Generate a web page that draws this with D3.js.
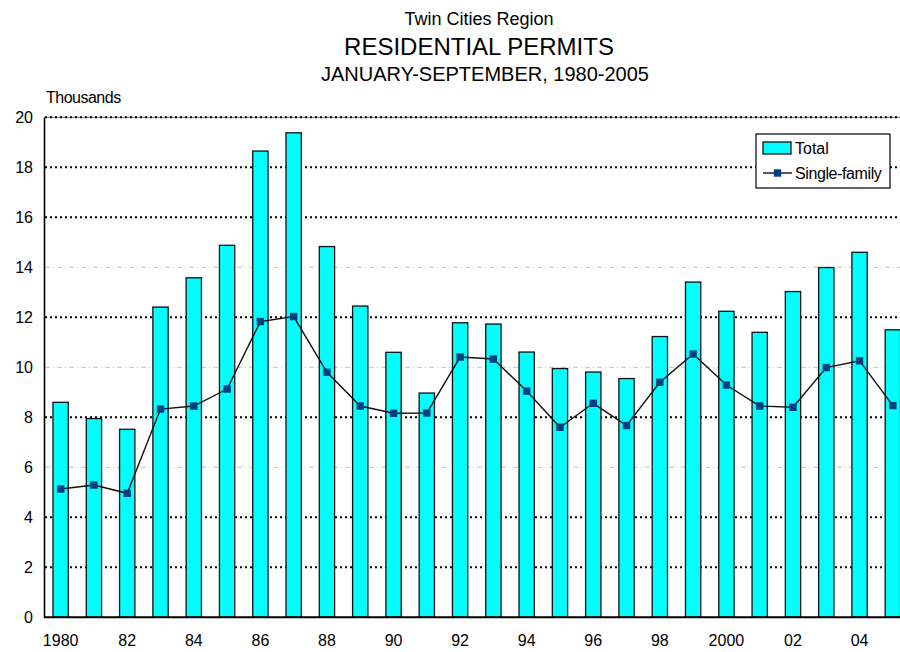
<!DOCTYPE html>
<meta charset="utf-8">
<style>
body { margin: 0; background: #fff; }
svg { font-family: "Liberation Sans", Arial, sans-serif; }
.bar { fill: #00ffff; stroke: #111; stroke-width: 1.3; }
.sfline { fill: none; stroke: #111; stroke-width: 1.4; }
.marker { fill: #003f80; }
.grid { stroke: #000; stroke-width: 2; stroke-dasharray: 2,3; }
.grid.faint { stroke: #c4c4c4; stroke-width: 1; stroke-dasharray: 5,3,1,3; }
.axis path, .axis line { stroke: #000; }
.axis text { font-size: 16px; fill: #000; }
</style>
<body>
<svg id="chart" width="900" height="652"></svg>
</body>
<script src="https://cdn.jsdelivr.net/npm/d3@7"></script>
<script>

// years 1980-2005, total and single-family permits (thousands)
var years = [1980, 1981, 1982, 1983, 1984, 1985, 1986, 1987, 1988, 1989, 1990, 1991, 1992,
             1993, 1994, 1995, 1996, 1997, 1998, 1999, 2000, 2001, 2002, 2003, 2004, 2005];
var total = [8.6, 7.95, 7.52, 12.41, 13.58, 14.88, 18.65, 19.38, 14.83, 12.45, 10.6, 8.97, 11.78,
             11.73, 10.61, 9.95, 9.81, 9.55, 11.23, 13.41, 12.24, 11.4, 13.03, 13.99, 14.6, 11.5];
var singleFamily = [5.13, 5.29, 4.96, 8.33, 8.45, 9.13, 11.83, 12.03, 9.8, 8.45, 8.16, 8.17, 10.41,
                    10.33, 9.05, 7.6, 8.56, 7.67, 9.4, 10.53, 9.29, 8.45, 8.4, 9.99, 10.26, 8.47];
var yTicks = [0, 2, 4, 6, 8, 10, 12, 14, 16, 18, 20];
var yearLabels = ["1980", "82", "84", "86", "88", "90", "92", "94", "96", "98", "2000", "02", "04"];
var titles = ["Twin Cities Region", "RESIDENTIAL PERMITS", "JANUARY-SEPTEMBER, 1980-2005"];

var data = years.map(function(y, i) {
  return {year: y, total: total[i], sf: singleFamily[i]};
});

var svg = d3.select("#chart");
var plotLeft = 44, plotRight = 909.5, plotTop = 117.3, plotBottom = 617.3;

var x = d3.scaleBand()
    .domain(years)
    .range([plotLeft, plotRight])
    .paddingInner(0.54)
    .paddingOuter(0.27);

var y = d3.scaleLinear().domain([0, 20]).range([plotBottom, plotTop]);

// titles
svg.append("text").attr("x", 479).attr("y", 25).attr("text-anchor", "middle")
    .style("font-size", "18px").text(titles[0]);
svg.append("text").attr("x", 479).attr("y", 55).attr("text-anchor", "middle")
    .style("font-size", "24px").text(titles[1]);
svg.append("text").attr("x", 485).attr("y", 81).attr("text-anchor", "middle")
    .style("font-size", "20px").text(titles[2]);

svg.append("text").attr("x", 46).attr("y", 103)
    .style("font-size", "16px").style("letter-spacing", "-0.5px").text("Thousands");

// plot frame top
svg.append("line")
    .attr("x1", plotLeft).attr("x2", 900).attr("y1", plotTop).attr("y2", plotTop)
    .attr("stroke", "#8a8a8a").attr("stroke-width", 1.2);

// gridlines
svg.append("g").selectAll("line")
    .data(yTicks.filter(function(d) { return d > 0; }))
  .enter().append("line")
    .attr("class", function(d) { return (d == 6 || d == 10 || d == 14) ? "grid faint" : "grid"; })
    .attr("x1", plotLeft + 1).attr("x2", 900)
    .attr("y1", function(d) { return y(d); })
    .attr("y2", function(d) { return y(d); });

// bars
svg.append("g").selectAll("rect")
    .data(data)
  .enter().append("rect")
    .attr("class", "bar")
    .attr("x", function(d) { return x(d.year); })
    .attr("width", x.bandwidth())
    .attr("y", function(d) { return y(d.total); })
    .attr("height", function(d) { return y(0) - y(d.total); });

// single family line
var line = d3.line()
    .x(function(d) { return x(d.year) + x.bandwidth() / 2; })
    .y(function(d) { return y(d.sf); });

svg.append("path").datum(data).attr("class", "sfline").attr("d", line);

svg.append("g").selectAll("rect")
    .data(data)
  .enter().append("rect")
    .attr("class", "marker")
    .attr("x", function(d) { return x(d.year) + x.bandwidth() / 2 - 3.7; })
    .attr("y", function(d) { return y(d.sf) - 3.7; })
    .attr("width", 7.4).attr("height", 7.4);

// axes
var yAxis = d3.axisLeft(y).tickValues(yTicks).tickSize(0).tickPadding(11);
svg.append("g").attr("class", "axis")
    .attr("transform", "translate(" + plotLeft + ",0)")
    .call(yAxis)
    .call(function(g) { g.select(".domain").attr("stroke-width", 1.6); });

var xAxis = d3.axisBottom(x)
    .tickValues(years.filter(function(d, i) { return i % 2 == 0; }))
    .tickFormat(function(d, i) { return yearLabels[i]; })
    .tickSize(0).tickPadding(17);
svg.append("g").attr("class", "axis")
    .attr("transform", "translate(0," + plotBottom + ")")
    .call(xAxis)
    .call(function(g) {
      g.select(".domain").attr("d", "M" + plotLeft + ",0H900").attr("stroke-width", 2);
    });

// legend
var lg = svg.append("g").attr("transform", "translate(756,134)");
lg.append("rect").attr("width", 134).attr("height", 54)
    .attr("fill", "#fff").attr("stroke", "#000").attr("stroke-width", 1.2);
lg.append("rect").attr("class", "bar").attr("x", 7).attr("y", 8).attr("width", 28).attr("height", 12);
lg.append("text").attr("x", 39).attr("y", 20).style("font-size", "16px").text("Total");
lg.append("line").attr("x1", 7).attr("x2", 36).attr("y1", 39).attr("y2", 39)
    .attr("stroke", "#111").attr("stroke-width", 1.4);
lg.append("rect").attr("class", "marker").attr("x", 17.8).attr("y", 35.3).attr("width", 7.4).attr("height", 7.4);
lg.append("text").attr("x", 39).attr("y", 45).style("font-size", "16px")
    .style("letter-spacing", "-0.4px").text("Single-family");

</script>
